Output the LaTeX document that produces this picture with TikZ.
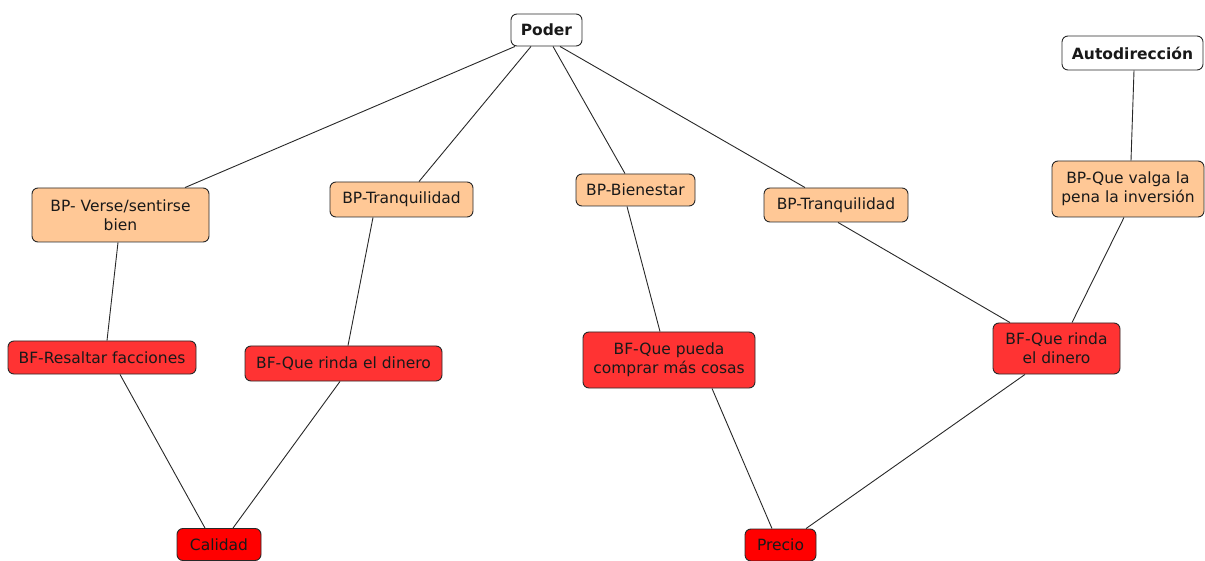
\documentclass[tikz,border=0pt]{standalone}
\usepackage{fontspec}
\setmainfont{DejaVu Sans}
\definecolor{bpfill}{RGB}{255,200,150}
\definecolor{bffill}{RGB}{255,51,51}
\definecolor{endfill}{RGB}{255,0,0}
\definecolor{edgecol}{RGB}{40,40,40}
\begin{document}
\begin{tikzpicture}[x=1pt,y=-1pt,
  box/.style={draw=edgecol, line width=0.9pt, rounded corners=6pt, align=center, inner sep=2pt,
    font=\fontsize{15.5}{19}\selectfont, text=black!90},
  valbox/.style={box, fill=white, font=\fontsize{15.5}{19}\selectfont\bfseries},
  bpbox/.style={box, fill=bpfill},
  bfbox/.style={box, fill=bffill},
  endbox/.style={box, fill=endfill},
  link/.style={draw=edgecol, line width=0.9pt}]
\useasboundingbox (0,0) rectangle (1205,561);
% nodes
\node[valbox, minimum width=71pt, minimum height=32pt] (poder) at (546.5,30) {Poder};
\node[valbox, minimum width=141pt, minimum height=34pt] (auto) at (1132.5,53) {Autodirección};
\node[bpbox, minimum width=177pt, minimum height=54pt] (verse) at (120.5,215) {BP- Verse/sentirse\\bien};
\node[bpbox, minimum width=143pt, minimum height=35pt] (tranq1) at (401.5,199.5) {BP-Tranquilidad};
\node[bpbox, minimum width=119pt, minimum height=32pt] (bien) at (635.5,190) {BP-Bienestar};
\node[bpbox, minimum width=144pt, minimum height=34pt] (tranq2) at (836,205) {BP-Tranquilidad};
\node[bpbox, minimum width=152pt, minimum height=56pt] (valga) at (1128,189) {BP-Que valga la\\pena la inversión};
\node[bfbox, minimum width=188pt, minimum height=33pt] (resaltar) at (102,357.5) {BF-Resaltar facciones};
\node[bfbox, minimum width=197pt, minimum height=35pt] (rinda1) at (343.5,363.5) {BF-Que rinda el dinero};
\node[bfbox, minimum width=172pt, minimum height=56pt] (pueda) at (669,360) {BF-Que pueda\\comprar más cosas};
\node[bfbox, minimum width=127pt, minimum height=51pt] (rinda2) at (1056.5,348.5) {BF-Que rinda\\el dinero};
\node[endbox, minimum width=84pt, minimum height=32pt] (calidad) at (219,544.5) {Calidad};
\node[endbox, minimum width=71pt, minimum height=32pt] (precio) at (780.5,545) {Precio};
% links
\draw[link] ([xshift=-31.5pt]poder.south) -- ([xshift=64.5pt]verse.north);
\draw[link] ([xshift=-15.5pt]poder.south) -- ([xshift=17.5pt]tranq1.north);
\draw[link] ([xshift=6.5pt]poder.south) -- ([xshift=-10.5pt]bien.north);
\draw[link] ([xshift=13.5pt]poder.south) -- ([xshift=-31pt]tranq2.north);
\draw[link] ([xshift=1.5pt]auto.south) -- ([xshift=3pt]valga.north);
\draw[link] ([xshift=-2.5pt]verse.south) -- ([xshift=5pt]resaltar.north);
\draw[link] ([xshift=-28.5pt]tranq1.south) -- ([xshift=4.5pt]rinda1.north);
\draw[link] ([xshift=-8.5pt]bien.south) -- ([xshift=-9pt]pueda.north);
\draw[link] ([xshift=2pt]tranq2.south) -- ([xshift=-46.5pt]rinda2.north);
\draw[link] ([xshift=-4pt]valga.south) -- ([xshift=15.5pt]rinda2.north);
\draw[link] ([xshift=18pt]resaltar.south) -- ([xshift=-14pt]calidad.north);
\draw[link] ([xshift=-3.5pt]rinda1.south) -- ([xshift=14pt]calidad.north);
\draw[link] ([xshift=43pt]pueda.south) -- ([xshift=-8.5pt]precio.north);
\draw[link] ([xshift=-31.5pt]rinda2.south) -- ([xshift=25.5pt]precio.north);
\end{tikzpicture}
\end{document}
